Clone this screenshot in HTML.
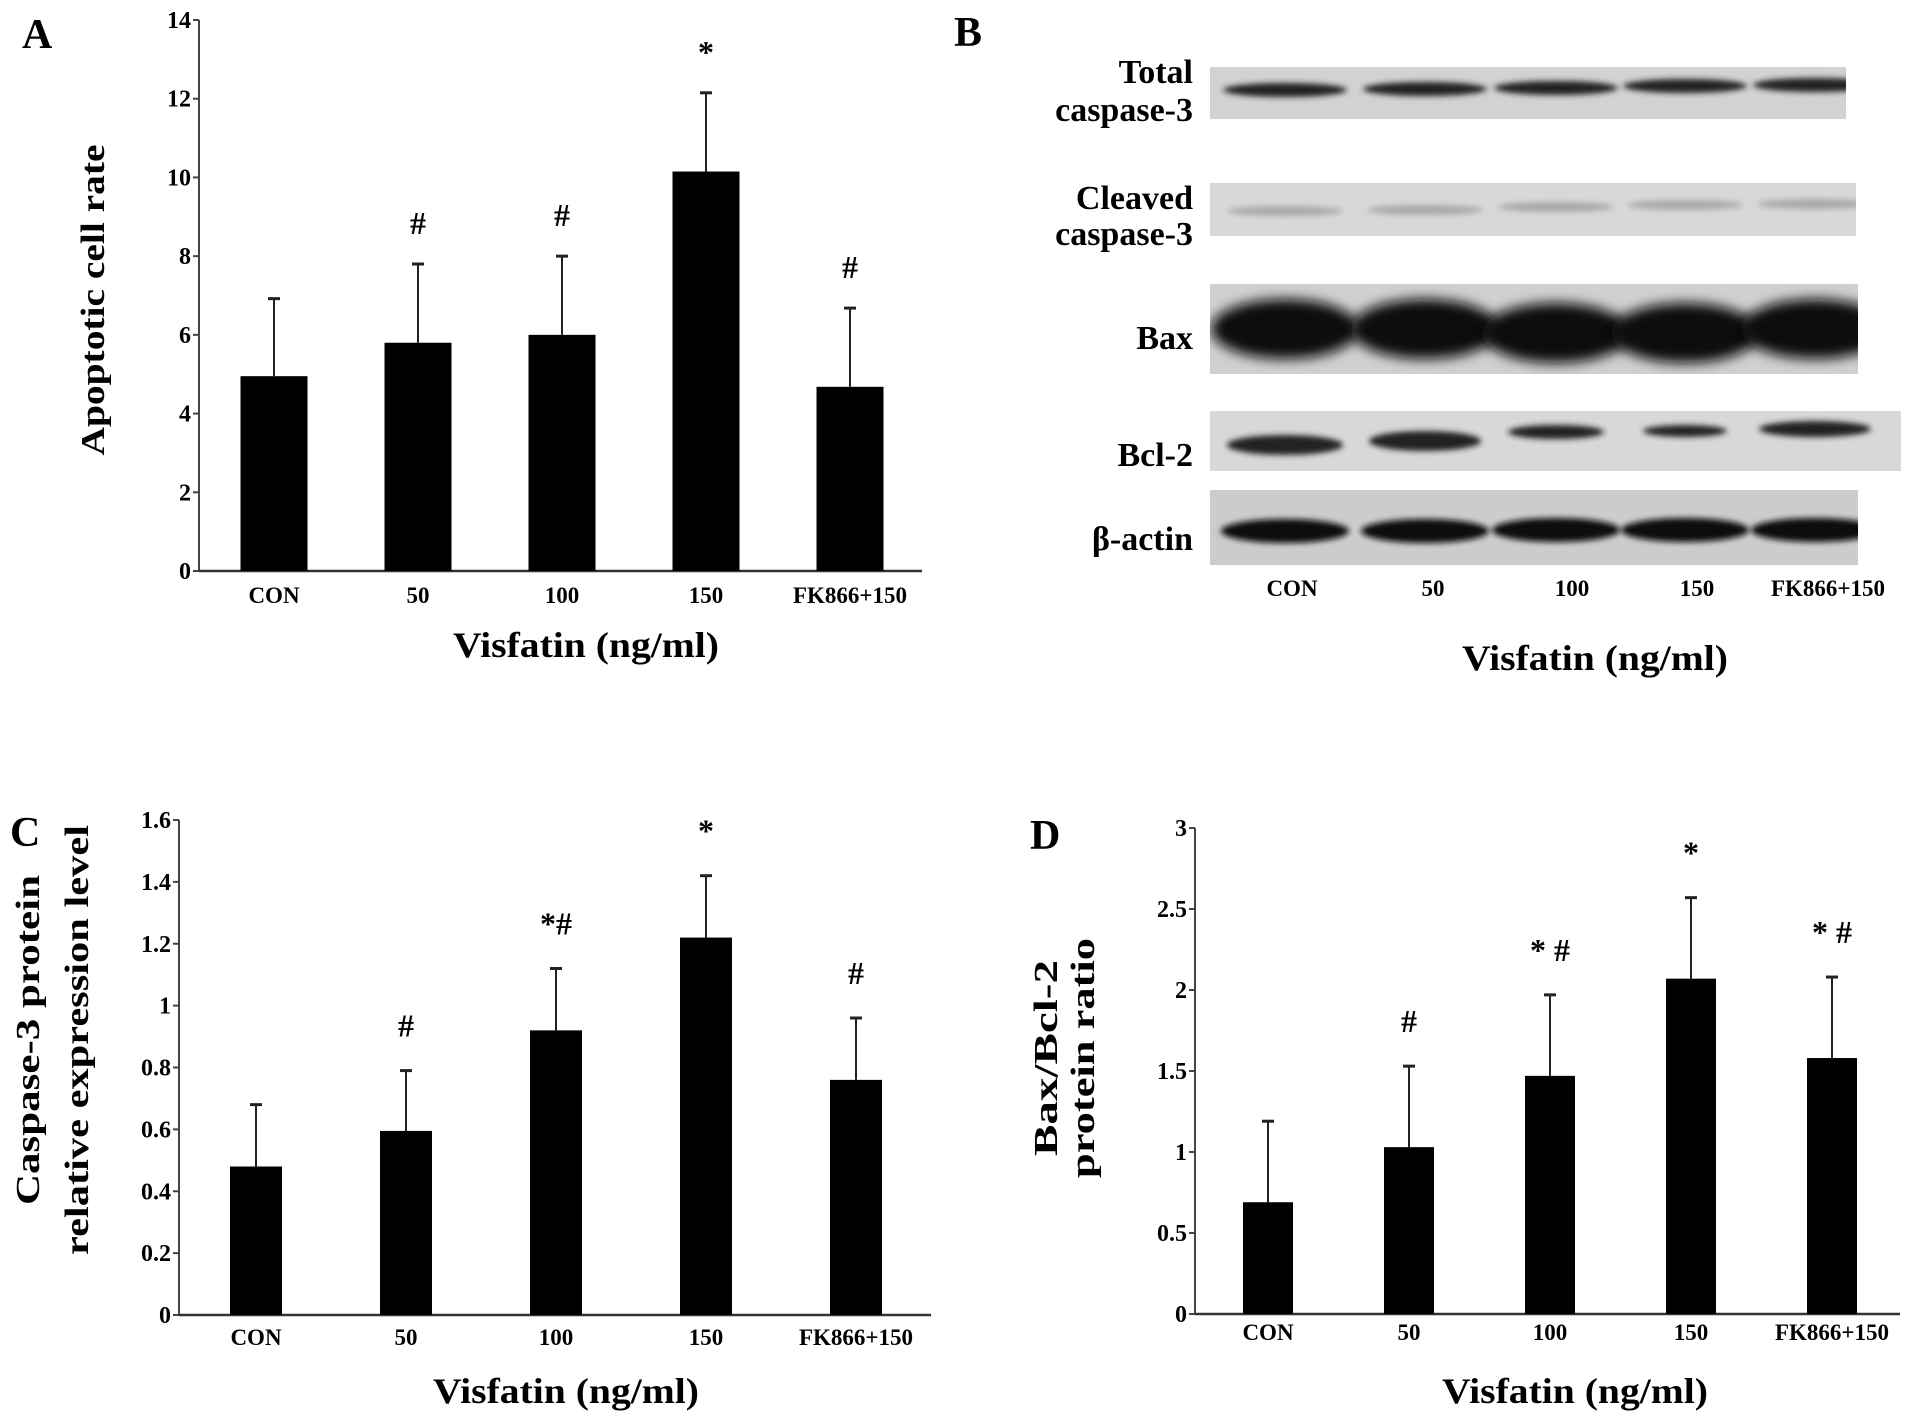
<!DOCTYPE html>
<html><head><meta charset="utf-8"><style>
html,body{margin:0;padding:0;background:#fff;}
svg{display:block;font-family:"Liberation Serif",serif;font-weight:bold;}
</style></head><body>
<svg id="fig" width="1913" height="1423" viewBox="0 0 1913 1423">
<defs><filter id="blur" x="-20%" y="-50%" width="140%" height="200%"><feGaussianBlur stdDeviation="3"/></filter>
<filter id="blur2" x="-20%" y="-50%" width="140%" height="200%"><feGaussianBlur stdDeviation="6"/></filter></defs>
<text x="22" y="48" font-size="42">A</text>
<text x="954" y="46" font-size="42">B</text>
<text x="10" y="846" font-size="42">C</text>
<text x="1030" y="849" font-size="42">D</text>
<g id="blot"></g>
<g id="chartA"></g>
<g id="chartC"></g>
<g id="chartD"></g>
</svg>
<script>
const categories = ["CON","50","100","150","FK866+150"];
const aValues = [4.95, 5.8, 6.0, 10.15, 4.68];
const aErrors = [1.97, 2.0, 2.0, 2.0, 2.0];
const aMarks = ["", "#", "#", "*", "#"];
const aTicks = [0,2,4,6,8,10,12,14];
const cValues = [0.48, 0.595, 0.92, 1.22, 0.76];
const cErrors = [0.2, 0.195, 0.2, 0.2, 0.2];
const cMarks = ["", "#", "*#", "*", "#"];
const cTicks = [0,0.2,0.4,0.6,0.8,1,1.2,1.4,1.6];
const dValues = [0.69, 1.03, 1.47, 2.07, 1.58];
const dErrors = [0.5, 0.5, 0.5, 0.5, 0.5];
const dMarks = ["", "#", "* #", "*", "* #"];
const dTicks = [0,0.5,1,1.5,2,2.5,3];
const blotRows = ["Total caspase-3","Cleaved caspase-3","Bax","Bcl-2","β-actin"];

const NS="http://www.w3.org/2000/svg";
function mk(parent, tag, attrs, txt){
  const e=document.createElementNS(NS,tag);
  for(const k in attrs) e.setAttribute(k, attrs[k]);
  if(txt!==undefined) e.textContent=txt;
  parent.appendChild(e); return e;
}
function drawChart(g, cfg, values, errors, marks, ticks){
  const y = v => cfg.y0 - (v/cfg.max)*(cfg.y0-cfg.yTop);
  const x = i => cfg.c0 + i*cfg.step;
  const ax = mk(g,'line',{x1:cfg.ax,y1:cfg.yTop,x2:cfg.ax,y2:cfg.y0,stroke:'#444','stroke-width':2});
   
  const bx = mk(g,'line',{x1:cfg.ax,y1:cfg.y0,x2:cfg.xEnd,y2:cfg.y0,stroke:'#333','stroke-width':2.5});
   
  ticks.forEach(t=>{
    const tk = mk(g,'line',{x1:cfg.ax-6,y1:y(t),x2:cfg.ax,y2:y(t),stroke:'#444','stroke-width':2});
     
    const tl = mk(g,'text',{x:cfg.ax-8,y:y(t)+8,'font-size':24,'text-anchor':'end'},String(t));
     
  });
  values.forEach((v,i)=>{
    const cx=x(i), top=y(v+errors[i]);
    const el = mk(g,'line',{x1:cx,y1:y(v),x2:cx,y2:top,stroke:'#222','stroke-width':2});
     
    const cap = mk(g,'line',{x1:cx-6,y1:top,x2:cx+6,y2:top,stroke:'#222','stroke-width':3});
     
    const b = mk(g,'rect',{x:cx-cfg.bw/2,y:y(v),width:cfg.bw,height:cfg.y0-y(v),fill:'#000'});
     
    if(marks[i]){
      const m = mk(g,'text',{x:cx,y:top-cfg.mk,'font-size':32,'text-anchor':'middle'},marks[i]);
       
    }
    const cl = mk(g,'text',{x:cx,y:cfg.catY,'font-size':23,'text-anchor':'middle'},categories[i]);
     
  });
  const xt = mk(g,'text',{x:cfg.xtX,y:cfg.xtY,'font-size':36,'text-anchor':'middle',textLength:266,lengthAdjust:'spacingAndGlyphs'},'Visfatin (ng/ml)');
   
  cfg.ytitles.forEach(yt=>{
    const t = mk(g,'text',{x:0,y:0,'font-size':34,'text-anchor':'middle',textLength:yt.len,lengthAdjust:'spacingAndGlyphs',transform:`translate(${yt.x},${yt.cy}) rotate(-90)`},yt.t);
     
  });
}
drawChart(document.getElementById('chartA'),
 {ax:199,y0:571,yTop:20,max:14,xEnd:922,c0:274,step:144,bw:67,mk:30,catY:603,xtX:586,xtY:657,
  ytitles:[{t:'Apoptotic cell rate',x:104,cy:300,len:311}]}, aValues,aErrors,aMarks,aTicks);
drawChart(document.getElementById('chartC'),
 {ax:179,y0:1315,yTop:820,max:1.6,xEnd:931,c0:256,step:150,bw:52,mk:34,catY:1345,xtX:566,xtY:1403,
  ytitles:[{t:'Caspase-3 protein',x:39,cy:1040,len:330},{t:'relative expression level',x:88,cy:1040,len:430}]}, cValues,cErrors,cMarks,cTicks);
drawChart(document.getElementById('chartD'),
 {ax:1195,y0:1314,yTop:828,max:3,xEnd:1900,c0:1268,step:141,bw:50,mk:34,catY:1340,xtX:1575,xtY:1403,
  ytitles:[{t:'Bax/Bcl-2',x:1057,cy:1058,len:196},{t:'protein ratio',x:1094,cy:1058,len:240}]}, dValues,dErrors,dMarks,dTicks);

// Western blot
const bg=document.getElementById('blot');
const defs=document.querySelector('defs');
const strips=[{x:1210,y:67,w:636,h:52,c:'#d2d2d2'},{x:1210,y:183,w:646,h:53,c:'#d8d8d8'},{x:1210,y:284,w:648,h:90,c:'#d0d0d0'},{x:1210,y:411,w:691,h:60,c:'#d8d8d8'},{x:1210,y:490,w:648,h:75,c:'#cccccc'}];
const lanes=[1285,1425,1556,1685,1815];
const labelSpec=[[['Total',71],['caspase-3',109]],[['Cleaved',197],['caspase-3',233]],[['Bax',337]],[['Bcl-2',454]],[['β-actin',538]]];
strips.forEach((s,r)=>{
  const cp=mk(defs,'clipPath',{id:'clip'+r});
  mk(cp,'rect',{x:s.x,y:s.y,width:s.w,height:s.h});
  const st=mk(bg,'rect',{x:s.x,y:s.y,width:s.w,height:s.h,fill:s.c});
   
  labelSpec[r].forEach(l=>{
    const t=mk(bg,'text',{x:1193,y:l[1]+12,'font-size':34,'text-anchor':'end'},l[0]);
     
  });
});
const bandCfg=[
 {cy:[90,89,88,86,85],rx:62,ry:7,fill:'#222',f:'blur'},
 {cy:[211,210,207,205,204],rx:58,ry:5,fill:'#a8a8a8',f:'blur'},
 {cy:[329,329,333,333,329],rx:74,ry:30,fill:'#111',f:'blur2'},
 {cy:[445,441,432,431,429],rx:[58,56,48,42,56],ry:[10,10,7,6,8],fill:'#222',f:'blur'},
 {cy:[531,531,530,530,530],rx:64,ry:12,fill:'#111',f:'blur'}];
bandCfg.forEach((b,r)=>{
  const grp=mk(bg,'g',{'clip-path':'url(#clip'+r+')'});
  lanes.forEach((lx,i)=>{
    const rx=Array.isArray(b.rx)?b.rx[i]:b.rx, ry=Array.isArray(b.ry)?b.ry[i]:b.ry;
    const e=mk(grp,'ellipse',{cx:lx,cy:b.cy[i],rx:rx,ry:ry,fill:b.fill,filter:'url(#'+b.f+')'});
     
  });
});
const bCat=[1292,1433,1572,1697,1828];
categories.forEach((c,i)=>{
  const t=mk(bg,'text',{x:bCat[i],y:596,'font-size':23,'text-anchor':'middle'},c);
   
});
const bt=mk(bg,'text',{x:1595,y:670,'font-size':36,'text-anchor':'middle',textLength:266,lengthAdjust:'spacingAndGlyphs'},'Visfatin (ng/ml)');
 
</script>
</body></html>
